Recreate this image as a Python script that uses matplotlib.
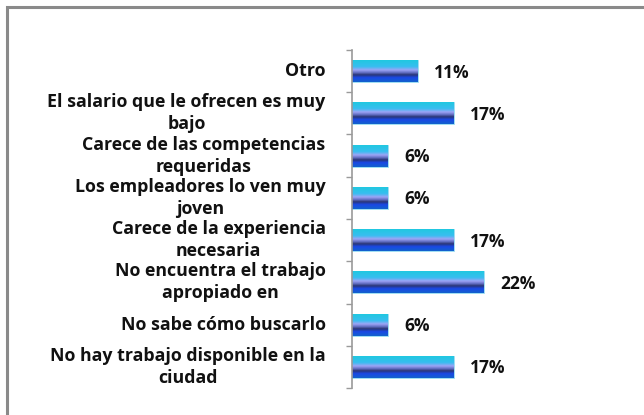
import numpy as np
import matplotlib.pyplot as plt
from matplotlib.colors import LinearSegmentedColormap
from matplotlib.patches import Rectangle
from matplotlib.transforms import offset_copy

categorias = [
    "Otro",
    "El salario que le ofrecen es muy\nbajo",
    "Carece de las competencias\nrequeridas",
    "Los empleadores lo ven muy\njoven",
    "Carece de la experiencia\nnecesaria",
    "No encuentra el trabajo\napropiado en",
    "No sabe cómo buscarlo",
    "No hay trabajo disponible en la\nciudad",
]
porcentajes = [11, 17, 6, 6, 17, 22, 6, 17]

# vertical gradient used to fill each bar (top -> bottom)
grad = LinearSegmentedColormap.from_list("barra", [
    (0.00, "#20c8e0"),
    (0.30, "#38bef0"),
    (0.45, "#9ea4f6"),
    (0.57, "#6470c4"),
    (0.67, "#2a3676"),
    (0.80, "#1a48e6"),
    (1.00, "#1262cc"),
])

plt.rcParams['font.family'] = ['Open Sans', 'DejaVu Sans']

fig = plt.figure(figsize=(6.44, 4.15), dpi=100)
ax = fig.add_axes([352/644, 1-388/415, 240/644, (388-50)/415])

n = len(categorias)
y = np.arange(n)
h = 0.52
bars = ax.barh(y, porcentajes, height=h, color="none", edgecolor="#8fd8f0", linewidth=0.6)
gimg = np.linspace(0, 1, 256).reshape(-1, 1)
for b, v in zip(bars, porcentajes):
    x0, y0 = b.get_x(), b.get_y()
    im = ax.imshow(gimg, cmap=grad, aspect="auto", origin="upper",
                   extent=[x0, x0 + b.get_width(), y0 + h, y0], zorder=1)
    im.set_clip_path(b)
    ax.annotate(f"{v}%", (v, y0 + h/2), xytext=(11.5, -1), textcoords="offset points",
                ha="left", va="center", fontsize=12.5, fontweight="bold", color="#111111")

ax.set_xlim(0, 40)
ax.set_ylim(n - 0.5, -0.5)

for s in ["top", "right", "bottom"]:
    ax.spines[s].set_visible(False)
ax.spines["left"].set_color("#9a9a9a")
ax.spines["left"].set_linewidth(1.2)
ax.set_xticks([])
ax.set_yticks([])
ax.set_yticks(np.arange(-0.5, n, 1), minor=True)
ax.tick_params(axis="y", which="minor", length=4, color="#9a9a9a", width=1)

# category labels, centred lines, right edge a bit left of the axis
lbl_tr = offset_copy(ax.get_yaxis_transform(), fig=fig, x=-19, y=0, units="points")
for yi, c in zip(y, categorias):
    ax.text(0, yi, c, transform=lbl_tr, ha="right", va="center", multialignment="center",
            fontsize=12.8, fontweight="bold", color="#111111", linespacing=1.28)

# outer frame of the chart area
fig.patches.append(Rectangle((7/644, -0.1), 1.2, 1 - 7/415 + 0.1, transform=fig.transFigure,
                             fill=False, edgecolor="#8a8a8a", linewidth=2.2))

fig.savefig("out.png", dpi=100)
